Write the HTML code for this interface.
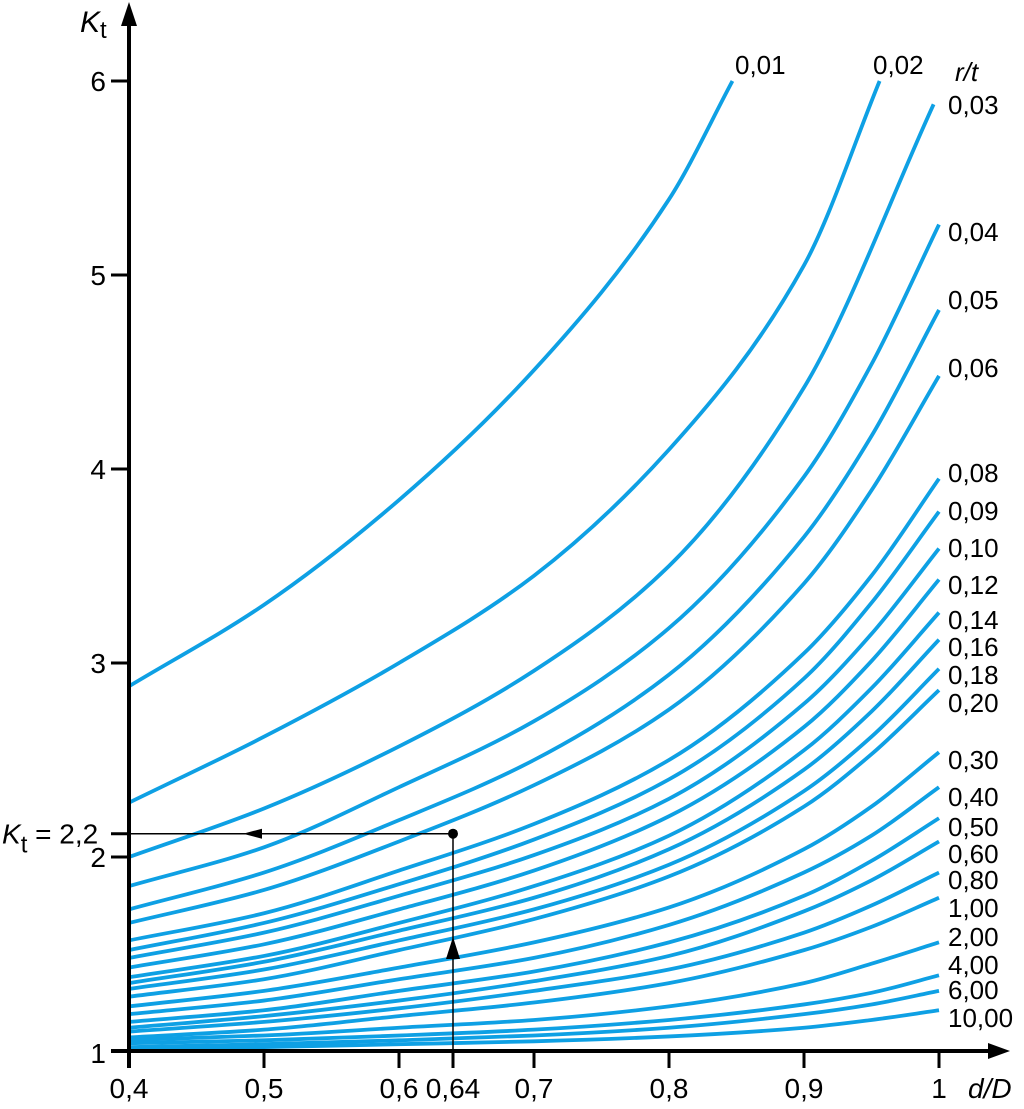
<!DOCTYPE html>
<html><head><meta charset="utf-8"><style>
html,body{margin:0;padding:0;background:#fff;}
svg text{font-family:"Liberation Sans",sans-serif;fill:#000;}
</style></head><body>
<svg id="chart" width="1024" height="1104" viewBox="0 0 1024 1104" xmlns="http://www.w3.org/2000/svg">
<g id="curves"></g>
<g id="axes"></g>
<g id="labels"></g>
</svg>
<script>
const xTicks=[0.4,0.5,0.6,0.7,0.8,0.9,1];
const xTickLabels=["0,4","0,5","0,6","0,7","0,8","0,9","1"];
const yTicks=[1,2,3,4,5,6];
const yTickLabels=["1","2","3","4","5","6"];
const stdX=[0.4,0.5,0.6,0.7,0.8,0.9,0.95,1.0];
const seriesNames=["0,01","0,02","0,03","0,04","0,05","0,06","0,08","0,09","0,10","0,12","0,14","0,16","0,18","0,20","0,30","0,40","0,50","0,60","0,80","1,00","2,00","4,00","6,00","10,00"];
const x001=[0.4,0.5,0.6,0.7,0.8,0.847];
const k001=[2.88,3.30,3.84,4.51,5.39,6.0];
const x002=[0.4,0.5,0.6,0.7,0.8,0.9,0.956];
const k002=[2.28,2.62,3.00,3.45,4.10,5.05,6.0];
const x003=[0.4,0.5,0.6,0.7,0.8,0.9,0.996];
const k003=[2.0,2.25,2.57,2.96,3.50,4.42,5.88];
const k004=[1.85,2.05,2.36,2.70,3.18,3.96,4.54,5.26];
const k005=[1.73,1.92,2.19,2.50,2.94,3.65,4.17,4.82];
const k006=[1.66,1.83,2.08,2.37,2.76,3.41,3.89,4.48];
const k008=[1.57,1.71,1.93,2.17,2.50,3.05,3.45,3.95];
const k009=[1.52,1.66,1.86,2.09,2.40,2.92,3.31,3.78];
const k010=[1.48,1.61,1.80,2.01,2.30,2.79,3.15,3.59];
const k012=[1.43,1.55,1.73,1.93,2.21,2.67,3.01,3.43];
const k014=[1.38,1.49,1.66,1.85,2.11,2.55,2.87,3.26];
const k016=[1.35,1.46,1.62,1.79,2.04,2.45,2.75,3.12];
const k018=[1.32,1.42,1.57,1.73,1.96,2.34,2.62,2.97];
const k020=[1.28,1.37,1.52,1.68,1.90,2.26,2.53,2.86];
const k030=[1.23,1.31,1.43,1.56,1.74,2.04,2.26,2.54];
const k040=[1.19,1.26,1.37,1.48,1.65,1.92,2.11,2.36];
const k050=[1.15,1.21,1.31,1.41,1.56,1.80,1.98,2.20];
const k060=[1.12,1.18,1.26,1.36,1.49,1.72,1.88,2.08];
const k080=[1.10,1.15,1.22,1.31,1.42,1.61,1.75,1.92];
const k100=[1.07,1.11,1.18,1.25,1.35,1.52,1.64,1.79];
const k200=[1.057,1.08,1.12,1.16,1.23,1.35,1.45,1.56];
const k400=[1.04,1.055,1.08,1.11,1.16,1.24,1.30,1.39];
const k600=[1.02,1.035,1.055,1.08,1.12,1.19,1.24,1.31];
const k1000=[1.01,1.02,1.035,1.05,1.075,1.12,1.16,1.21];
const labelY=[65,65,105,232,300,368,473,511,548,585,620,647,675,703,760,797,827,854,880,908,937,965,990,1018];
const annotX=0.64, annotK=2.12;

const NS="http://www.w3.org/2000/svg";
function X(v){return 129+(v-0.4)*1350;}
function Y(v){return 1051-(v-1)*194;}
function mk(tag,attrs,parent){const e=document.createElementNS(NS,tag);for(const k in attrs)e.setAttribute(k,attrs[k]);parent.appendChild(e);return e;}
function smooth(xs,ks){
  const px=xs.map(X), py=ks.map(Y), n=px.length;
  const d=[],m=new Array(n);
  for(let i=0;i<n-1;i++)d.push((py[i+1]-py[i])/(px[i+1]-px[i]));
  m[0]=d[0]; m[n-1]=d[n-2];
  for(let i=1;i<n-1;i++){
    if(d[i-1]*d[i]<=0)m[i]=0;
    else{const h0=px[i]-px[i-1],h1=px[i+1]-px[i];const w1=2*h1+h0,w2=h1+2*h0;m[i]=(w1+w2)/(w1/d[i-1]+w2/d[i]);}
  }
  let s="M"+px[0]+","+py[0];
  for(let i=0;i<n-1;i++){
    const h=(px[i+1]-px[i])/3;
    s+=" C"+(px[i]+h)+","+(py[i]+m[i]*h)+" "+(px[i+1]-h)+","+(py[i+1]-m[i+1]*h)+" "+px[i+1]+","+py[i+1];
  }
  return s;
}
const gC=document.getElementById('curves');
const allX=[x001,x002,x003].concat(Array(21).fill(stdX));
const allK=[k001,k002,k003,k004,k005,k006,k008,k009,k010,k012,k014,k016,k018,k020,k030,k040,k050,k060,k080,k100,k200,k400,k600,k1000];
allK.forEach((ks,i)=>{
  const p=mk('path',{d:smooth(allX[i],ks),fill:'none',stroke:'#0ea0e4','stroke-width':3.8},gC);
  
  
});
const gL=document.getElementById('labels');
seriesNames.forEach((n,i)=>{
  let x=948;
  if(i===0)x=735; if(i===1)x=873;
  const t=mk('text',{x:x,y:labelY[i]+9,'font-size':26},gL);
  t.textContent=n;
  
  
});
const rt=mk('text',{x:955,y:81,'font-size':26,'font-style':'italic'},gL);
rt.textContent="r/t";



const gA=document.getElementById('axes');
const ya=mk('line',{x1:129,y1:1068,x2:129,y2:20,stroke:'#000','stroke-width':4},gA);


const yah=mk('polygon',{points:"129,2 121,26 137,26",fill:'#000'},gA);


const xa=mk('line',{x1:111,y1:1051,x2:995,y2:1051,stroke:'#000','stroke-width':4},gA);


const xah=mk('polygon',{points:"1010,1051 988,1043 988,1059",fill:'#000'},gA);


yTicks.forEach((v,i)=>{
  const l=mk('line',{x1:111,y1:Y(v),x2:129,y2:Y(v),stroke:'#000','stroke-width':3},gA);
  
  
  const t=mk('text',{x:106,y:Y(v)+(v===1?12:10),'font-size':28,'text-anchor':'end'},gA);
  t.textContent=yTickLabels[i];
  
  
});
xTicks.forEach((v,i)=>{
  const l=mk('line',{x1:X(v),y1:1051,x2:X(v),y2:1068,stroke:'#000','stroke-width':3},gA);
  
  
  const t=mk('text',{x:X(v),y:1098,'font-size':28,'text-anchor':'middle'},gA);
  t.textContent=xTickLabels[i];
  
  
});
const t064=mk('line',{x1:X(annotX),y1:1051,x2:X(annotX),y2:1068,stroke:'#000','stroke-width':3},gA);


const l064=mk('text',{x:X(annotX),y:1098,'font-size':28,'text-anchor':'middle'},gA);
l064.textContent="0,64";


const tk=mk('line',{x1:111,y1:Y(annotK),x2:129,y2:Y(annotK),stroke:'#000','stroke-width':3},gA);


const kl=mk('text',{x:2,y:Y(annotK)+10,'font-size':28},gA);
kl.innerHTML='<tspan font-style="italic">K</tspan><tspan font-size="24" dy="9">t</tspan><tspan dy="-9"> = 2,2</tspan>';


const hl=mk('polyline',{points:`${X(annotX)},1051 ${X(annotX)},${Y(annotK)} 129,${Y(annotK)}`,fill:'none',stroke:'#000','stroke-width':1.5},gA);


const ah=mk('polygon',{points:`243,${Y(annotK)} 262,${Y(annotK)-5} 262,${Y(annotK)+5}`,fill:'#000'},gA);


const av=mk('polygon',{points:`${X(annotX)},937 ${X(annotX)-7},959 ${X(annotX)+7},959`,fill:'#000'},gA);


const dot=mk('circle',{cx:X(annotX),cy:Y(annotK),r:5,fill:'#000'},gA);


const kt=mk('text',{x:80,y:32,'font-size':30},gA);
kt.innerHTML='<tspan font-style="italic">K</tspan><tspan font-size="24" dy="6">t</tspan>';


const dd=mk('text',{x:968,y:1098,'font-size':28,'font-style':'italic'},gA);
dd.textContent="d/D";


</script>
</body></html>
